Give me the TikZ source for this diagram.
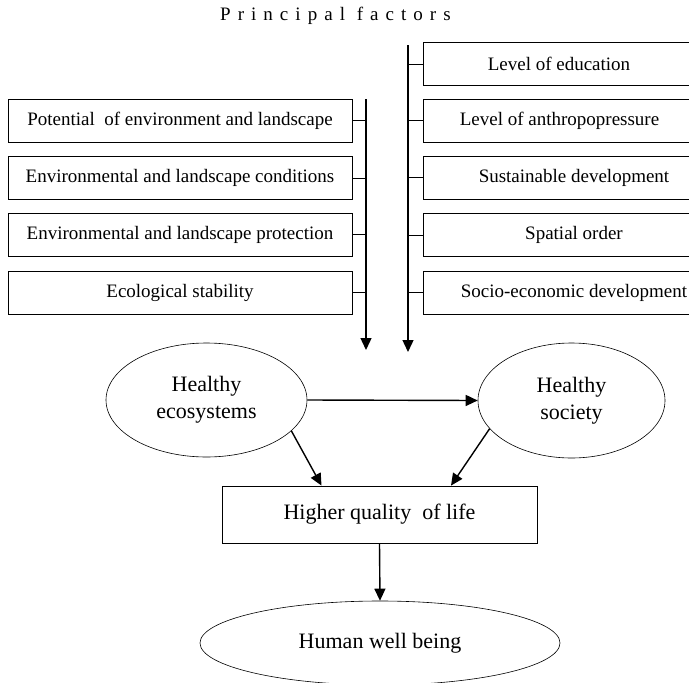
\documentclass[tikz,border=0pt]{standalone}
\usepackage{fontspec}
\setmainfont{Liberation Serif}
\usetikzlibrary{positioning,shapes,arrows.meta}

\tikzset{
  factor/.style={draw, line width=0.8pt, minimum height=43pt, inner sep=0pt,
    font=\fontsize{19}{23}\selectfont},
  leftfactor/.style={factor, minimum width=344pt},
  rightfactor/.style={factor, minimum width=302pt},
  state/.style={draw, ellipse, line width=0.6pt, inner sep=0pt, align=center,
    font=\fontsize{22}{27}\selectfont},
  flow/.style={-{Triangle[length=12pt,width=11pt]}, line width=1.4pt},
  tick/.style={line width=0.8pt}
}

\begin{document}
\begin{tikzpicture}[x=1pt,y=-1pt]
\clip (0,0) rectangle (689,683);
% title
\node [anchor=west, inner sep=0pt, font=\fontsize{19}{23}\selectfont] (title) at (220,16)
  {\addfontfeatures{LetterSpace=37}Principal factors};
% left factors
\node [leftfactor] (l1) at (180,120.5) {Potential\ \ of environment and landscape};
\node [leftfactor] (l2) at (180,178) {Environmental and landscape conditions};
\node [leftfactor] (l3) at (180,234.5) {Environmental and landscape protection};
\node [leftfactor] (l4) at (180,292.5) {Ecological stability};
% right factors
\node [rightfactor] (r1) at (574,64) {\hspace*{-30pt}Level of education};
\node [rightfactor] (r2) at (574,120.5) {\hspace*{-29pt}Level of anthropopressure};
\node [rightfactor] (r3) at (574,177.5) {Sustainable development};
\node [rightfactor] (r4) at (574,235) {Spatial order};
\node [rightfactor] (r5) at (574,292.5) {Socio-economic development};
% collecting lines
\coordinate (ltop) at (366,99);
\coordinate (lend) at (366,350);
\coordinate (rtop) at (408,45);
\coordinate (rend) at (408,352);
\draw [flow] (ltop) -- (lend);
\draw [flow] (rtop) -- (rend);
\foreach \n in {l1,l2,l3,l4}
  \draw [tick] (\n.east) -- (\n.east -| ltop);
\foreach \n in {r1,r2,r3,r4,r5}
  \draw [tick] (\n.west) -- (\n.west -| rtop);
% outcomes
\node [state, minimum width=201pt, minimum height=114pt] (eco) at (206.5,400) {Healthy\\ecosystems};
\node [state, minimum width=187pt, minimum height=115pt] (soc) at (571.5,400.5) {Healthy\\society};
\node [draw, line width=0.8pt, minimum width=315pt, minimum height=57pt, inner sep=0pt,
  font=\fontsize{22}{27}\selectfont] (quality) at (379.5,514.5) {Higher quality\ \ of life};
\node [state, minimum width=360pt, minimum height=84pt] (human) at (380,643) {Human well being};
\draw [flow] (eco.east) -- (soc.west);
\draw [flow] (eco.-20) -- ([xshift=-58pt]quality.north);
\draw [flow] (soc.199) -- ([xshift=71.5pt]quality.north);
\draw [flow] (quality.south) -- (human.north);
\end{tikzpicture}
\end{document}
